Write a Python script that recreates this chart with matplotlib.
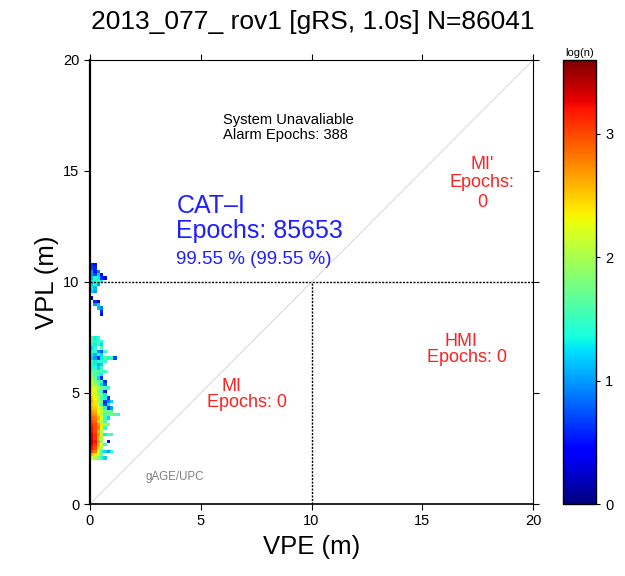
import numpy as np
import matplotlib
matplotlib.use("Agg")
import matplotlib.pyplot as plt

plt.rcParams['font.family'] = ['Liberation Sans', 'DejaVu Sans']

title = "2013_077_ rov1 [gRS, 1.0s] N=86041"
x_ticks = [0, 5, 10, 15, 20]
y_ticks = [0, 5, 10, 15, 20]
cbar_ticks = [0, 1, 2, 3]
alarm_limit = 10
cbar_max = 3.6

# histogram bins (m)
vpe_bin = 0.15
vpl_bin = 0.15
vpl_first = 2.0
# log10(count) per VPL row (from VPL=2.0 upward), values per VPE bin starting at 0
nan = None
log_counts_rows = [
    [2.2, 2.0, 1.8, 1.5, 1.2],
    [2.6, 2.4, 2.2, 1.8],
    [3.0, 2.8, 2.3, 1.5, 1.2, 1.0, 1.4],
    [3.2, 3.0, 2.5, 2.0],
    [3.3, 3.1, 2.6, 2.2, 1.5],
    [3.4, 3.2, 2.7, 1.9, nan, 0.5],
    [3.3, 3.1, 2.6, 2.0],
    [3.3, 3.1, 2.7, 2.2, 1.3, 1.6, 1.5],
    [3.2, 3.0, 2.6, 2.0],
    [3.2, 3.0, 2.8, 2.3, 1.5],
    [3.1, 3.0, 2.7, 2.4, 2.0, 1.8],
    [3.0, 2.9, 2.5, 2.0, 1.6],
    [2.9, 2.8, 2.6, 2.2, 1.5, 1.2],
    [2.8, 2.7, 2.4, 2.0, 1.6, 1.7, 1.8, 1.6, 1.5],
    [2.7, 2.6, 2.3, 2.1, 1.8, 1.6, 1.7],
    [2.6, 2.5, 2.2, 2.0, 1.4, 0.6, 1.0],
    [2.5, 2.4, 2.1, 1.5, 0.7, 1.3],
    [2.6, 2.4, 2.0, 1.7, 0.6, 0.9, 1.2],
    [2.5, 2.3, 2.0, 1.6, 1.4, 0.6],
    [2.3, 2.1, 1.9, 1.8, 1.3],
    [2.4, 2.2, 1.8, 1.5, 0.5],
    [2.2, 2.1, 2.0, 1.7, 1.6, 1.5],
    [2.0, 1.9, 1.8, 1.2, 0.8],
    [2.1, 1.8, 1.6, 1.5, 0.6],
    [1.9, 1.7, 1.2, 0.6],
    [1.8, 1.6, 1.4, 1.3],
    [1.6, 1.7, 1.5, 1.6, 1.5],
    [1.5, 1.4, 1.2, 1.5],
    [1.4, 1.3, 1.0, 1.2],
    [1.6, 1.3, 1.5, 1.4, 1.5],
    [1.2, 1.0, 0.6, 1.3, 1.6, 1.4, 1.5, 0.7],
    [1.3, 1.1, 1.4, 1.2],
    [1.4, 1.5, 1.0, 0.8, 1.5],
    [1.2, 1.4, nan, 1.6],
    [1.5, 1.3, 1.5, 1.2],
    [1.6, 1.4, 1.6, 1.4],
    [1.7, 1.3, 1.5],
    [], [], [], [], [], [],
    [nan, nan, nan, 0.5],
    [nan, nan, nan, 0.6],
    [nan, nan, 1.1, 0.9],
    [nan, 1.0, 1.2],
    [nan, 0.6, 0.3],
    [0.3],
    [],
    [1.2, 1.0],
    [1.3, 1.1],
    [1.2, 1.4, 1.0],
    [1.3, 1.5, 1.6, 1.4],
    [1.1, 1.4, 1.3, 0.6, 0.4],
    [1.0, 0.7, 1.2, 0.5],
    [1.0, 0.5, 0.9],
    [0.7, 0.6],
    [0.6, 0.5],
]

ncols = max(len(r) for r in log_counts_rows)
nrows = len(log_counts_rows)
Z = np.full((nrows, ncols), np.nan)
for i, r in enumerate(log_counts_rows):
    for j, v in enumerate(r):
        if v is not None:
            Z[i, j] = v
xe = np.arange(ncols + 1) * vpe_bin
ye = vpl_first + np.arange(nrows + 1) * vpl_bin

fig = plt.figure(figsize=(6.25, 5.76), dpi=100)
ax = fig.add_axes([0.144, 0.125, 0.709, 0.771])
cax = fig.add_axes([0.901, 0.125, 0.053, 0.771])

mesh = ax.pcolormesh(xe, ye, np.ma.masked_invalid(Z), cmap='jet', vmin=0, vmax=cbar_max, zorder=2)

ax.plot([0, 20], [0, 20], color='#dcdcdc', lw=0.8, zorder=1)
ax.plot([0, 20], [alarm_limit, alarm_limit], color='black', lw=1, ls=(0, (1.5, 1)), zorder=3)
ax.plot([alarm_limit, alarm_limit], [0, alarm_limit], color='black', lw=1, ls=(0, (1.5, 1)), zorder=3)

ax.set_xlim(0, 20)
ax.set_ylim(0, 20)
ax.set_xticks(x_ticks)
ax.set_yticks(y_ticks)
ax.tick_params(direction='out', length=4, labelsize=10.5, top=True, right=True)
for s in ax.spines.values():
    s.set_linewidth(0.8)
ax.spines['left'].set_linewidth(1.6)
ax.spines['bottom'].set_linewidth(1.2)
ax.set_xlabel("VPE (m)", fontsize=18.5, labelpad=5)
ax.set_ylabel("VPL (m)", fontsize=18.5, labelpad=3)
fig.text(0.5, 0.962, title, ha='center', va='center', fontsize=19)

ax.text(6.0, 17.3, "System Unavaliable", fontsize=10.6, ha='left', va='center')
ax.text(6.0, 16.6, "Alarm Epochs: 388", fontsize=10.6, ha='left', va='center')
blue = '#1e1eff'
ax.text(3.9, 13.4, "CAT\u2013I", fontsize=18, color=blue, ha='left', va='center')
ax.text(3.9, 12.3, "Epochs: 85653", fontsize=18, color=blue, ha='left', va='center')
ax.text(3.9, 11.0, "99.55 % (99.55 %)", fontsize=13.5, color=blue, ha='left', va='center')
red = '#ff2020'
ax.text(17.7, 15.3, "MI'", fontsize=13, color=red, ha='center', va='center')
ax.text(17.7, 14.5, "Epochs:", fontsize=13, color=red, ha='center', va='center')
ax.text(17.7, 13.6, "0", fontsize=13, color=red, ha='center', va='center')
ax.text(16.75, 7.3, "HMI", fontsize=13, color=red, ha='center', va='center')
ax.text(17.0, 6.6, "Epochs: 0", fontsize=13, color=red, ha='center', va='center')
ax.text(6.4, 5.3, "MI", fontsize=13, color=red, ha='center', va='center')
ax.text(7.1, 4.55, "Epochs: 0", fontsize=13, color=red, ha='center', va='center')
ax.text(2.5, 1.2, "gAGE/UPC", fontsize=8.3, color='#808080', ha='left', va='center')

cb = fig.colorbar(mesh, cax=cax, ticks=cbar_ticks)
cb.ax.tick_params(labelsize=10.5, length=3)
cb.outline.set_linewidth(1)
cax.set_title("log(n)", fontsize=8, pad=3)

fig.savefig("out.png", dpi=100)
